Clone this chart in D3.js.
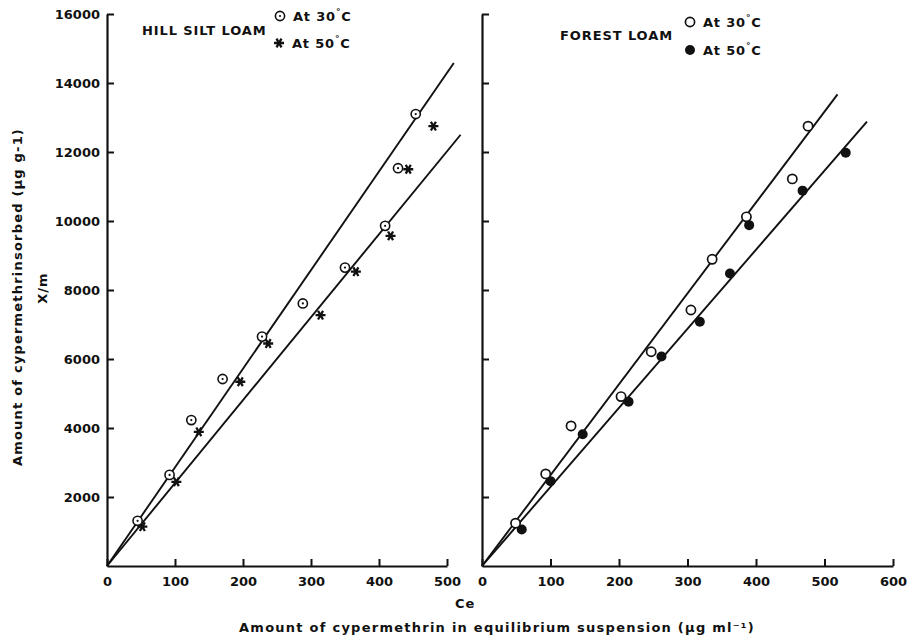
<!DOCTYPE html>
<html lang="en">
<head>
    <meta charset="UTF-8">
    <title>Cypermethrin sorption isotherms</title>
    <script src="https://d3js.org/d3.v7.min.js"></script>
    <style>
        body {
            margin: 0;
            background: white;
            font-family: "DejaVu Sans", sans-serif;
        }
        .tick text {
            font: bold 13px "DejaVu Sans", sans-serif;
            fill: #111;
        }
        .lbl {
            font-weight: bold;
            fill: #111;
        }
    </style>
</head>
<body>
<div id="chart"></div>
<script>
    // ---- data ----
    // Hill silt loam, [Ce, x/m]
    const hill30 = [[45, 1310], [92, 2640], [124, 4230], [170, 5420], [228, 6650],
        [288, 7610], [350, 8650], [409, 9860], [428, 11530], [454, 13100]];
    const hill50 = [[52, 1140], [102, 2440], [135, 3890], [196, 5340], [237, 6450],
        [314, 7270], [366, 8530], [417, 9570], [443, 11500], [480, 12750]];
    // fitted lines drawn from origin to these end points
    const hillLines = [[510, 14580], [520, 12500]];

    // Forest loam
    const forest30 = [[49, 1240], [93, 2670], [130, 4060], [203, 4910], [247, 6210],
        [305, 7420], [336, 8890], [386, 10120], [453, 11220], [476, 12750]];
    const forest50 = [[58, 1060], [100, 2460], [147, 3820], [214, 4760], [262, 6070],
        [318, 7080], [362, 8480], [390, 9880], [468, 10880], [531, 11980]];
    const forestLines = [[519, 13670], [562, 12880]];

    const yTicks = [0, 2000, 4000, 6000, 8000, 10000, 12000, 14000, 16000];
    const xTicksLeft = [0, 100, 200, 300, 400, 500];
    const xTicksRight = [0, 100, 200, 300, 400, 500, 600];

    const width = 914, height = 641;

    const svg = d3.select("#chart")
        .append("svg")
        .attr("width", width)
        .attr("height", height);

    const y = d3.scaleLinear().domain([0, 16000]).range([566, 14]);
    const xL = d3.scaleLinear().domain([0, 500]).range([107, 447]);
    const xR = d3.scaleLinear().domain([0, 600]).range([482, 893]);

    function drawAxes(x, xTicks, showY) {
        const gx = svg.append("g")
            .attr("transform", `translate(0,${y(0)})`)
            .call(d3.axisBottom(x)
                .tickValues(xTicks)
                .tickSize(-7)
                .tickSizeOuter(0)
                .tickPadding(11));
        gx.select(".domain").attr("stroke-width", 2.2).attr("stroke", "#111");
        gx.selectAll(".tick line").attr("stroke-width", 2).attr("stroke", "#111");

        const gy = svg.append("g")
            .attr("transform", `translate(${x(0)},0)`)
            .call(d3.axisLeft(y)
                .tickValues(yTicks.slice(1))
                .tickSize(-7)
                .tickSizeOuter(0)
                .tickPadding(7)
                .tickFormat(showY ? d3.format("d") : ""));
        gy.select(".domain").attr("stroke-width", 2.2).attr("stroke", "#111");
        gy.selectAll(".tick line").attr("stroke-width", 2).attr("stroke", "#111");
    }

    function drawLines(x, ends) {
        svg.append("g")
            .selectAll("line")
            .data(ends)
            .enter().append("line")
            .attr("x1", x(0))
            .attr("y1", y(0))
            .attr("x2", d => x(d[0]))
            .attr("y2", d => y(d[1]))
            .attr("stroke", "#111")
            .attr("stroke-width", 1.9);
    }

    // marker helpers
    function dotCircle(g, cx, cy) {
        g.append("circle").attr("cx", cx).attr("cy", cy).attr("r", 4.6)
            .attr("fill", "white").attr("stroke", "#111").attr("stroke-width", 1.6);
        g.append("circle").attr("cx", cx).attr("cy", cy).attr("r", 1.1).attr("fill", "#111");
    }
    const star = d3.symbol().type(d3.symbolAsterisk).size(70);
    function asterisk(g, cx, cy) {
        g.append("path").attr("d", star())
            .attr("transform", `translate(${cx},${cy}) rotate(90)`)
            .attr("fill", "none").attr("stroke", "#111").attr("stroke-width", 2.3);
    }
    function openCircle(g, cx, cy) {
        g.append("circle").attr("cx", cx).attr("cy", cy).attr("r", 4.6)
            .attr("fill", "white").attr("stroke", "#111").attr("stroke-width", 1.7);
    }
    function fullCircle(g, cx, cy) {
        g.append("circle").attr("cx", cx).attr("cy", cy).attr("r", 5)
            .attr("fill", "#111");
    }

    function drawPoints(x, data, mark) {
        const g = svg.append("g");
        data.forEach(d => mark(g, x(d[0]), y(d[1])));
    }

    function legendEntry(px, py, mark, temp) {
        const g = svg.append("g");
        mark(g, px, py);
        const t = g.append("text")
            .attr("class", "lbl")
            .attr("x", px + 13)
            .attr("y", py + 5)
            .style("font-size", "13px")
            .style("letter-spacing", "0.8px");
        t.append("tspan").text("At " + temp);
        t.append("tspan").attr("dy", -6).style("font-size", "9px").text("°");
        t.append("tspan").attr("dy", 6).text("C");
    }

    // ---- left panel: hill silt loam ----
    drawAxes(xL, xTicksLeft, true);
    drawLines(xL, hillLines);
    drawPoints(xL, hill50, asterisk);
    drawPoints(xL, hill30, dotCircle);

    svg.append("text").attr("class", "lbl")
        .attr("x", 142).attr("y", 35)
        .style("font-size", "13px").style("letter-spacing", "0.9px")
        .text("HILL SILT LOAM");
    legendEntry(280, 16, dotCircle, "30");
    legendEntry(279, 43, asterisk, "50");

    // ---- right panel: forest loam ----
    drawAxes(xR, xTicksRight, false);
    drawLines(xR, forestLines);
    drawPoints(xR, forest50, fullCircle);
    drawPoints(xR, forest30, openCircle);

    svg.append("text").attr("class", "lbl")
        .attr("x", 560).attr("y", 40)
        .style("font-size", "13px").style("letter-spacing", "0.9px")
        .text("FOREST LOAM");
    legendEntry(690, 22, openCircle, "30");
    legendEntry(690, 50, fullCircle, "50");

    // ---- axis titles ----
    svg.append("text").attr("class", "lbl")
        .attr("transform", "translate(22,297) rotate(-90)")
        .attr("text-anchor", "middle")
        .style("font-size", "13px").style("letter-spacing", "1.2px")
        .text("Amount of cypermethrinsorbed (μg g-1)");
    svg.append("text").attr("class", "lbl")
        .attr("transform", "translate(47,288) rotate(-90)")
        .attr("text-anchor", "middle")
        .style("font-size", "13px").style("letter-spacing", "1px")
        .text("X/m");
    svg.append("text").attr("class", "lbl")
        .attr("x", 455).attr("y", 608)
        .style("font-size", "13px").style("letter-spacing", "1px")
        .text("Ce");
    svg.append("text").attr("class", "lbl")
        .attr("x", 497).attr("y", 632)
        .attr("text-anchor", "middle")
        .style("font-size", "13px").style("letter-spacing", "1.25px")
        .text("Amount of cypermethrin in equilibrium suspension (μg ml⁻¹)");
</script>
</body>
</html>
